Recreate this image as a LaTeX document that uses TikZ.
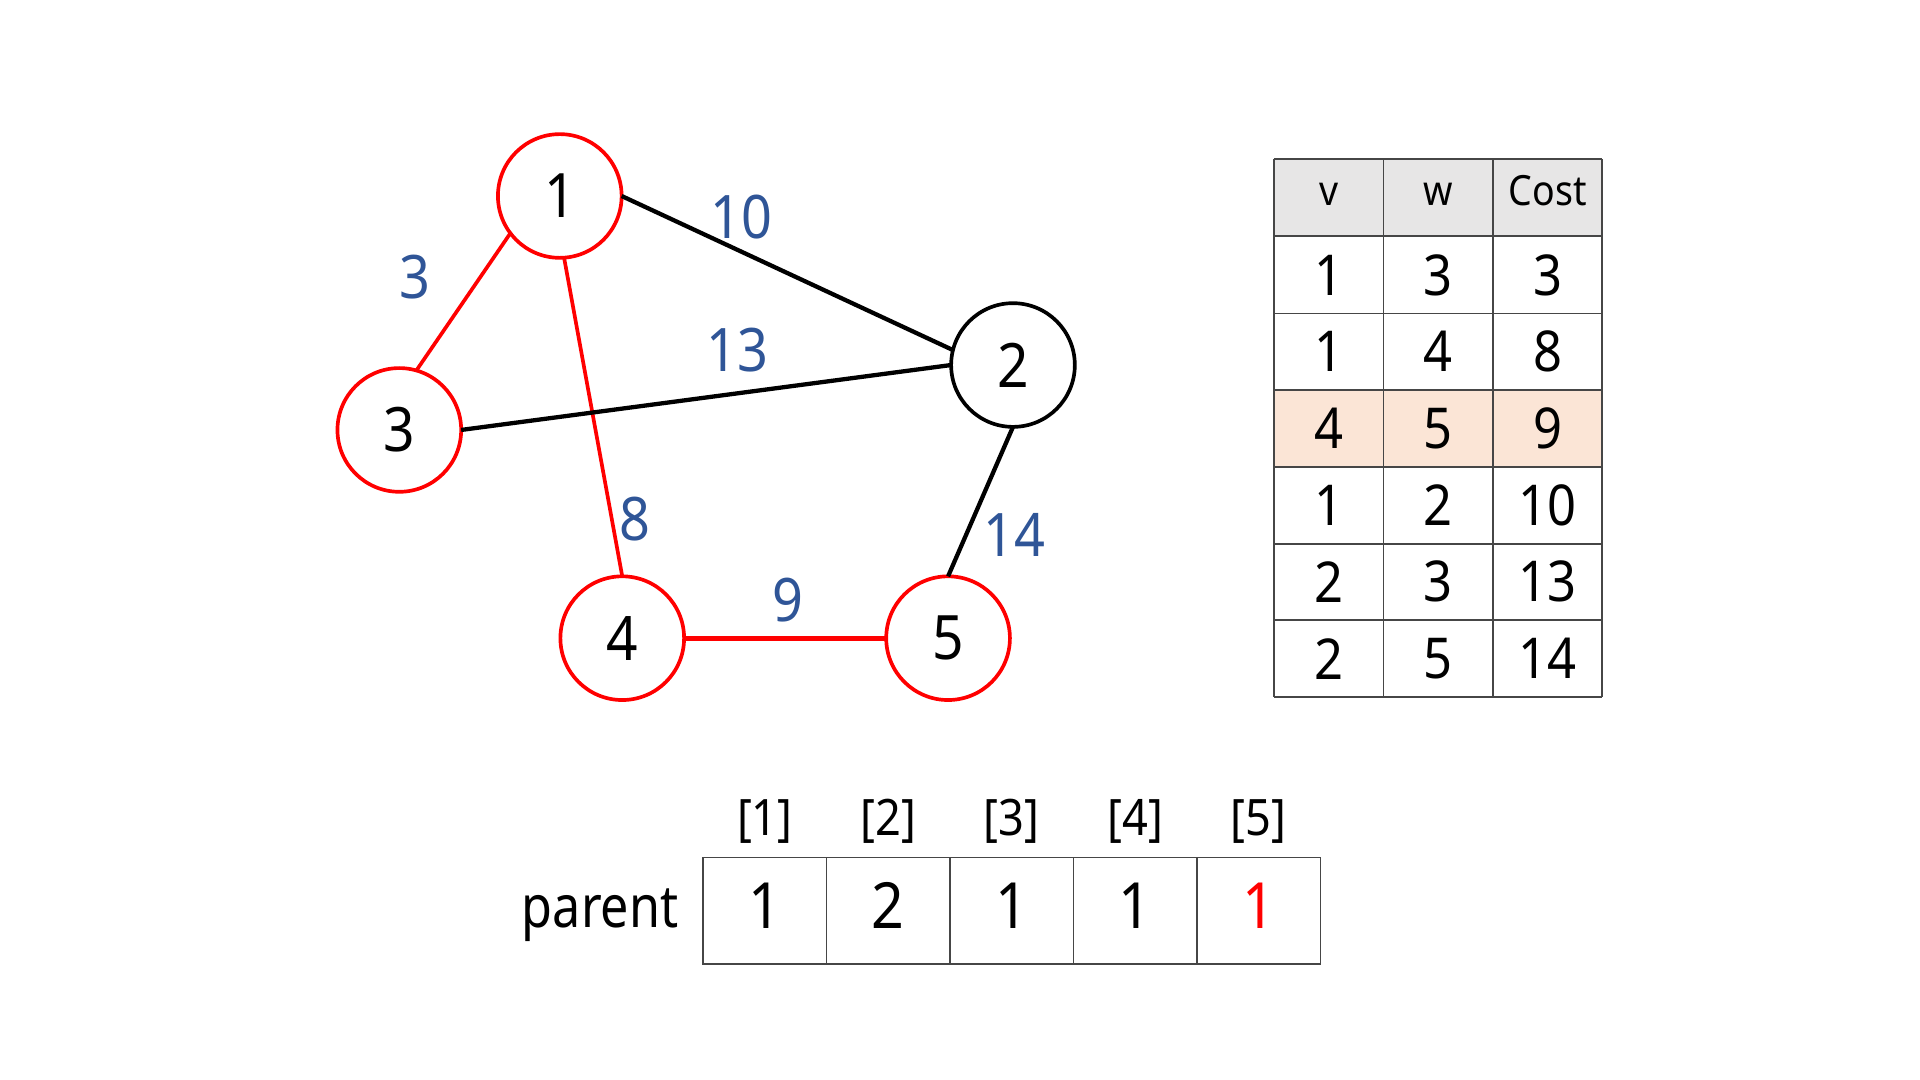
\documentclass[tikz,border=0pt]{standalone}
\usepackage{fontspec}
\setmainfont[FakeStretch=0.9]{Noto Sans}
\definecolor{lblblue}{RGB}{47,85,151}
\definecolor{hdrgray}{RGB}{231,230,230}
\definecolor{hlpeach}{RGB}{251,229,214}
\definecolor{gridc}{RGB}{70,70,70}
\definecolor{pred}{RGB}{255,0,0}
\begin{document}
\begin{tikzpicture}[x=1pt,y=-1pt,
 vert/.style={circle,draw,line width=3pt,minimum size=101pt,inner sep=0pt,outer sep=0pt,font=\fontsize{50}{60}\selectfont},
 redv/.style={vert,draw=pred},
 blackv/.style={vert,draw=black},
 wlabel/.style={text=lblblue,font=\fontsize{49}{58}\selectfont,inner sep=0pt},
 redge/.style={draw=pred,line width=3pt},
 bedge/.style={draw=black,line width=3.5pt},
 tcell/.style={font=\fontsize{46}{55}\selectfont,inner sep=0pt},
 hcell/.style={font=\fontsize{34}{40}\selectfont,inner sep=0pt,anchor=base},
 gridline/.style={draw=gridc,line width=1.5pt},
 pcell/.style={font=\fontsize{52}{62}\selectfont,inner sep=0pt,anchor=base},
 idx/.style={font=\fontsize{41}{50}\selectfont,inner sep=0pt,anchor=base}
]
\useasboundingbox (0,0) rectangle (1567.5,881.7);
% vertices
\node[redv] (n1) at (457,160) {1};
\node[blackv] (n2) at (827,298) {2};
\node[redv] (n3) at (326,351) {3};
\node[redv] (n4) at (508,521) {4};
\node[redv] (n5) at (774,521) {5};
% edges
\draw[redge] (n1.217) -- (n3.74);
\draw[redge] (n1.274) -- (n4.north);
\draw[bedge] (n1.east) -- (n2.166);
\draw[bedge] (n3.east) -- (n2.west);
\draw[bedge] (n2.south) -- (n5.north);
\draw[redge,line width=4pt] (n4.east) -- (n5.west);
% weights
\node[wlabel] (w12) at (605,177) {10};
\node[wlabel] (w13) at (339,226) {3};
\node[wlabel] (w23) at (602,286) {13};
\node[wlabel] (w14) at (518,424) {8};
\node[wlabel] (w25) at (828,437) {14};
\node[wlabel] (w45) at (643,490) {9};
% edge table
\fill[hdrgray] (1040,130) rectangle (1308,193);
\fill[hlpeach] (1040,318.5) rectangle (1308,381);
\foreach \yy in {130,193,256,318.5,381,444,506.5,569}
  \draw[gridline] (1040,\yy) -- (1308,\yy);
\foreach \xx in {1040,1129.5,1219,1308}
  \draw[gridline] (\xx,130) -- (\xx,569);
\node[hcell] (hv) at (1084.75,168) {v};
\node[hcell] (hw) at (1174.25,168) {w};
\node[hcell] (hc) at (1263.5,168) {Cost};
\foreach \r/\a/\b/\c [count=\i] in {224.5/1/3/3,287/1/4/8,349.75/4/5/9,412.5/1/2/10,475/2/3/13,537.75/2/5/14}{
  \node[tcell] (ta\i) at (1084.75,\r) {\a};
  \node[tcell] (tb\i) at (1174.25,\r) {\b};
  \node[tcell] (tc\i) at (1263.5,\r) {\c};
}
% parent array
\draw[gridline] (574,700) rectangle (1078,787);
\foreach \xx in {674.8,775.6,876.4,977.2}
  \draw[gridline] (\xx,700) -- (\xx,787);
\node[pcell,anchor=base east,font=\fontsize{48}{58}\selectfont] (plabel) at (554,757) {\scalebox{0.95}[1]{parent}};
\foreach \v/\cx [count=\i] in {1/624.4,2/725.2,1/826,1/926.8}{
  \node[pcell] (p\i) at (\cx,758) {\v};
  \node[idx] (ix\i) at (\cx,682) {[\i]};
}
\node[pcell,text=pred] (p5) at (1027.6,758) {1};
\node[idx] (ix5) at (1027.6,682) {[5]};
\end{tikzpicture}
\end{document}
